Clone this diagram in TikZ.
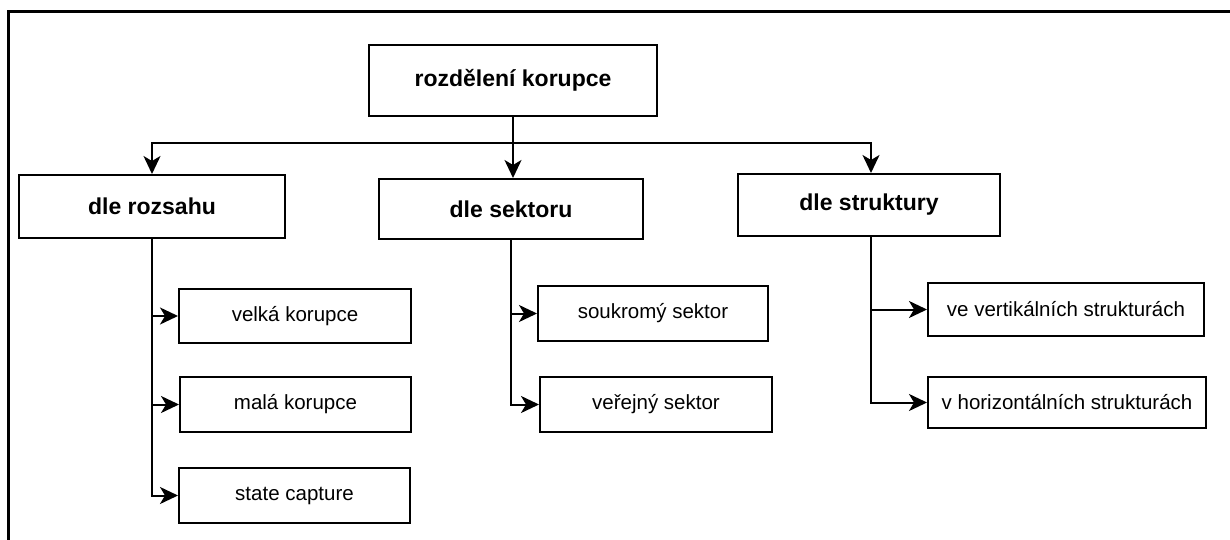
\documentclass[tikz,border=0pt]{standalone}
\usepackage{fontspec}
\setmainfont{Liberation Sans}
\usetikzlibrary{arrows.meta,calc}
\begin{document}
\begin{tikzpicture}[x=1pt,y=-1pt,
  box/.style={draw, line width=2pt, inner sep=0pt, fill=white},
  head/.style={box, font=\fontsize{23}{27}\selectfont\bfseries},
  sub/.style={box, font=\fontsize{20.5}{24}\selectfont},
  conn/.style={line width=2pt},
  arr/.style={conn, -{Stealth[length=18pt,width=17pt,inset=5pt]}}]
\useasboundingbox (0,0) rectangle (1230,540);
\draw[line width=3pt] (8.5,541) -- (8.5,11.5) -- (1231,11.5);

\node[head, minimum width=288pt, minimum height=71pt] (top) at (513,80.5) {rozdělení korupce};
\node[head, minimum width=266pt, minimum height=63pt] (roz) at (152,206.5) {dle rozsahu};
\node[head, minimum width=264pt, minimum height=60pt] (sek) at (511,209) {dle sektoru};
\node[head, minimum width=262pt, minimum height=62pt] (str) at (869,205) {dle struktury};

\node[sub, minimum width=232pt, minimum height=54pt] (velka) at (295,316) {velká korupce};
\node[sub, minimum width=231pt, minimum height=55pt] (mala) at (295.5,404.5) {malá korupce};
\node[sub, minimum width=231pt, minimum height=55pt] (state) at (294.5,495.5) {state capture};
\node[sub, minimum width=230pt, minimum height=55pt] (souk) at (653,313.5) {soukromý sektor};
\node[sub, minimum width=232pt, minimum height=55pt] (verej) at (656,404.5) {veřejný sektor};
\node[sub, minimum width=276pt, minimum height=53pt] (vert) at (1066,309.5) {ve vertikálních strukturách};
\node[sub, minimum width=278pt, minimum height=51pt] (horiz) at (1067,402.5) {v horizontálních strukturách};

\coordinate (bus) at ($(top.south)+(0,26)$);
\draw[arr] (top.south) -- (top.south |- sek.north);
\draw[arr] (bus) -| (roz.north);
\draw[arr] (bus) -| ([xshift=2pt]str.north);

\draw[arr] (roz.south) |- (velka.west);
\draw[arr] (roz.south) |- (mala.west);
\draw[arr] (roz.south) |- (state.west);

\draw[arr] (sek.south) |- (souk.west);
\draw[arr] (sek.south) |- (verej.west);

\draw[arr] ([xshift=2pt]str.south) |- (vert.west);
\draw[arr] ([xshift=2pt]str.south) |- (horiz.west);
\end{tikzpicture}
\end{document}
